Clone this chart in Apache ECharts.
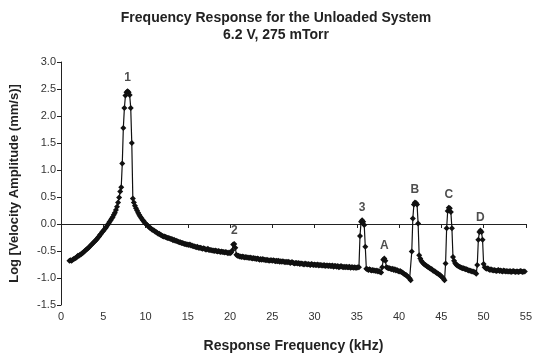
<!DOCTYPE html>
<html>
<head>
<meta charset="utf-8">
<script src="https://cdn.jsdelivr.net/npm/echarts@6/dist/echarts.min.js"></script>
<style>html,body{margin:0;padding:0;background:#fff}#c{width:535px;height:358px}</style>
</head>
<body>
<div id="c"></div>
<script>
// Frequency sampling (kHz): uniform grid starting at freqStart with step freqStep
var freqStart = 1.0;
var freqStep = 0.125;
// Log velocity amplitude, one row per kHz (8 samples each), 1.0 .. 54.875 kHz
var amplitude = [
 -0.68,-0.67,-0.68,-0.66,-0.65,-0.64,-0.63,-0.61,
 -0.59,-0.59,-0.57,-0.56,-0.54,-0.53,-0.51,-0.49,
 -0.47,-0.46,-0.44,-0.42,-0.40,-0.38,-0.36,-0.34,
 -0.32,-0.30,-0.28,-0.25,-0.23,-0.20,-0.18,-0.15,
 -0.13,-0.10,-0.08,-0.05,-0.02,0.01,0.04,0.07,
 0.10,0.13,0.17,0.21,0.26,0.32,0.40,0.49,
 0.60,0.68,1.12,1.78,2.15,2.38,2.44,2.46,
 2.44,2.39,2.15,1.50,0.47,0.40,0.34,0.29,
 0.25,0.21,0.17,0.14,0.11,0.08,0.06,0.03,
 0.01,-0.01,-0.03,-0.05,-0.07,-0.08,-0.10,-0.11,
 -0.12,-0.14,-0.15,-0.16,-0.18,-0.18,-0.20,-0.21,
 -0.22,-0.23,-0.23,-0.24,-0.25,-0.26,-0.26,-0.27,
 -0.28,-0.28,-0.30,-0.29,-0.31,-0.31,-0.32,-0.33,
 -0.34,-0.34,-0.35,-0.35,-0.36,-0.37,-0.37,-0.38,
 -0.38,-0.39,-0.38,-0.40,-0.40,-0.41,-0.41,-0.42,
 -0.43,-0.42,-0.44,-0.44,-0.44,-0.45,-0.46,-0.45,
 -0.46,-0.47,-0.47,-0.46,-0.48,-0.48,-0.48,-0.49,
 -0.49,-0.50,-0.49,-0.50,-0.51,-0.50,-0.51,-0.52,
 -0.51,-0.52,-0.52,-0.53,-0.52,-0.53,-0.54,-0.53,
 -0.54,-0.53,-0.49,-0.38,-0.37,-0.44,-0.57,-0.59,
 -0.59,-0.60,-0.60,-0.61,-0.60,-0.61,-0.62,-0.61,
 -0.62,-0.62,-0.63,-0.62,-0.63,-0.64,-0.63,-0.64,
 -0.64,-0.65,-0.64,-0.65,-0.66,-0.65,-0.66,-0.65,
 -0.66,-0.66,-0.67,-0.66,-0.67,-0.68,-0.67,-0.67,
 -0.68,-0.67,-0.68,-0.69,-0.68,-0.69,-0.68,-0.70,
 -0.69,-0.70,-0.69,-0.70,-0.71,-0.70,-0.71,-0.70,
 -0.71,-0.72,-0.71,-0.71,-0.72,-0.73,-0.72,-0.72,
 -0.73,-0.72,-0.74,-0.73,-0.73,-0.74,-0.75,-0.73,
 -0.74,-0.75,-0.74,-0.75,-0.76,-0.74,-0.75,-0.76,
 -0.75,-0.76,-0.76,-0.75,-0.77,-0.76,-0.76,-0.77,
 -0.77,-0.76,-0.78,-0.77,-0.77,-0.78,-0.77,-0.78,
 -0.78,-0.77,-0.79,-0.78,-0.78,-0.79,-0.78,-0.80,
 -0.79,-0.78,-0.79,-0.80,-0.79,-0.80,-0.79,-0.80,
 -0.80,-0.79,-0.81,-0.80,-0.80,-0.81,-0.80,-0.81,
 -0.81,-0.80,-0.80,-0.22,0.04,0.07,0.04,-0.02,
 -0.42,-0.83,-0.84,-0.85,-0.84,-0.85,-0.86,-0.85,
 -0.86,-0.86,-0.87,-0.86,-0.88,-0.87,-0.89,-0.90,
 -0.80,-0.66,-0.64,-0.68,-0.80,-0.81,-0.82,-0.82,
 -0.83,-0.84,-0.83,-0.85,-0.84,-0.86,-0.85,-0.87,
 -0.88,-0.87,-0.89,-0.90,-0.91,-0.93,-0.94,-0.95,
 -0.97,-0.99,-1.01,-1.04,-0.51,0.10,0.36,0.40,
 0.39,0.36,0.01,-0.58,-0.64,-0.68,-0.71,-0.73,
 -0.75,-0.76,-0.78,-0.79,-0.80,-0.82,-0.83,-0.84,
 -0.86,-0.87,-0.88,-0.90,-0.91,-0.92,-0.94,-0.95,
 -0.97,-0.99,-1.01,-1.04,-0.73,-0.08,0.24,0.30,
 0.29,0.22,-0.08,-0.61,-0.68,-0.72,-0.75,-0.77,
 -0.78,-0.79,-0.80,-0.81,-0.82,-0.82,-0.83,-0.84,
 -0.84,-0.85,-0.86,-0.86,-0.87,-0.88,-0.88,-0.89,
 -0.90,-0.92,-0.76,-0.29,-0.15,-0.12,-0.15,-0.29,
 -0.74,-0.80,-0.82,-0.83,-0.82,-0.84,-0.85,-0.84,
 -0.85,-0.86,-0.85,-0.86,-0.87,-0.86,-0.85,-0.87,
 -0.86,-0.87,-0.88,-0.86,-0.87,-0.88,-0.87,-0.88,
 -0.88,-0.87,-0.89,-0.88,-0.87,-0.88,-0.89,-0.88,
 -0.88,-0.89,-0.88,-0.87,-0.88,-0.89,-0.88,-0.88
];
// Peak labels
var peakNames = ['1', '2', '3', 'A', 'B', 'C', 'D'];
var peakFreq = [7.875, 20.5, 35.625, 38.25, 41.875, 45.875, 49.625];
var peakAmp = [2.46, -0.37, 0.07, -0.64, 0.40, 0.30, -0.12];
// Axis ticks
var xTicks = [0, 5, 10, 15, 20, 25, 30, 35, 40, 45, 50, 55];
var yTicks = [-1.5, -1.0, -0.5, 0.0, 0.5, 1.0, 1.5, 2.0, 2.5, 3.0];

var seriesData = amplitude.map(function (v, i) { return [freqStart + i * freqStep, v]; });
var peakData = peakNames.map(function (n, i) { return { value: [peakFreq[i], peakAmp[i]], name: n }; });

var FONT = '"Liberation Sans", Arial, sans-serif';
var chart = echarts.init(document.getElementById('c'), null, { renderer: 'canvas' });
chart.setOption({
  animation: false,
  backgroundColor: '#ffffff',
  title: {
    text: 'Frequency Response for the Unloaded System\n6.2 V, 275 mTorr',
    left: 271,
    textAlign: 'center',
    top: 5,
    textStyle: { fontFamily: FONT, fontSize: 14, fontWeight: 'bold', color: '#222', lineHeight: 17 }
  },
  grid: { left: 61, right: 4, top: 62, bottom: 52, containLabel: false },
  xAxis: {
    type: 'value',
    min: xTicks[0], max: xTicks[xTicks.length - 1], interval: 5,
    name: 'Response Frequency (kHz)', nameLocation: 'middle', nameGap: 34,
    nameTextStyle: { fontFamily: FONT, fontSize: 14, fontWeight: 'bold', color: '#222' },
    axisLine: { lineStyle: { color: '#222', width: 1 } },
    axisTick: { show: true, inside: false, length: 4, lineStyle: { color: '#222' } },
    axisLabel: { fontFamily: FONT, fontSize: 11, color: '#333', margin: 6, showMaxLabel: true, showMinLabel: true },
    splitLine: { show: false }
  },
  yAxis: {
    type: 'value',
    min: yTicks[0], max: yTicks[yTicks.length - 1], interval: 0.5,
    name: 'Log [Velocity Amplitude (mm/s)]', nameLocation: 'middle', nameGap: 40,
    nameTextStyle: { fontFamily: FONT, fontSize: 13, fontWeight: 'bold', color: '#222' },
    axisLine: { show: true, lineStyle: { color: '#222', width: 1 } },
    axisTick: { show: true, inside: false, length: 4, lineStyle: { color: '#222' } },
    axisLabel: { fontFamily: FONT, fontSize: 11, color: '#333', margin: 5,
      formatter: function (v) { return v.toFixed(1); } },
    splitLine: { show: false }
  },
  series: [
    {
      type: 'line',
      data: seriesData,
      showAllSymbol: true,
      symbol: 'diamond',
      symbolSize: 6,
      lineStyle: { color: '#111', width: 1.2 },
      itemStyle: { color: '#111' },
      silent: true,
      z: 2
    },
    {
      type: 'scatter',
      data: peakData,
      symbolSize: 0,
      silent: true,
      label: {
        show: true, position: 'top', distance: 7,
        formatter: function (p) { return p.name; },
        fontFamily: FONT, fontSize: 12, fontWeight: 'bold', color: '#222'
      },
      z: 3
    }
  ]
});
</script>
</body>
</html>
